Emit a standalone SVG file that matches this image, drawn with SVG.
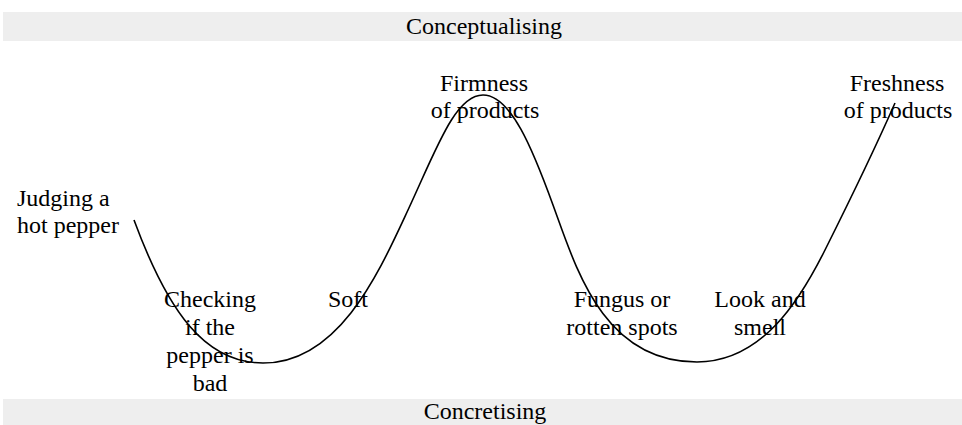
<svg xmlns="http://www.w3.org/2000/svg" width="962" height="425" viewBox="0 0 962 425">
<style>
.band{fill:#eeeeee;}
.t{font-family:"Liberation Serif","Times New Roman",serif;font-size:24px;fill:#000;}
.c{text-anchor:middle;}
.curve{fill:none;stroke:#000;stroke-width:1.6;}
</style>
<rect width="962" height="425" fill="#ffffff"/>
<g id="band-top"><rect class="band" x="3" y="12" width="959" height="29"/><text class="t c" x="484" y="34">Conceptualising</text></g>
<g id="band-bottom"><rect class="band" x="3" y="399" width="959" height="26"/><text class="t c" x="485" y="419">Concretising</text></g>
<g id="connectors"><path class="curve" d="M134,220 C168,312 205,363 263,363 C340,363 380,270 408,210 C436,150 455,95 483,95 C511,95 533,150 553,205 C576,268 603,362 697,362 C762,362 800,300 825,250 C840,220 870,160 895,103"/></g>
<g id="n-judging"><text class="t" x="17" y="206">Judging a</text><text class="t" x="17" y="233">hot pepper</text></g>
<g id="n-checking"><text class="t c" x="210" y="307">Checking</text><text class="t c" x="210" y="335">if the</text><text class="t c" x="210" y="363">pepper is</text><text class="t c" x="210" y="391">bad</text></g>
<g id="n-soft"><text class="t c" x="348" y="307">Soft</text></g>
<g id="n-firmness"><text class="t c" x="484" y="91">Firmness</text><text class="t c" x="485" y="118">of products</text></g>
<g id="n-fungus"><text class="t c" x="622" y="307">Fungus or</text><text class="t c" x="622" y="335">rotten spots</text></g>
<g id="n-look"><text class="t c" x="760" y="307">Look and</text><text class="t c" x="760" y="335">smell</text></g>
<g id="n-freshness"><text class="t c" x="897" y="91">Freshness</text><text class="t c" x="898" y="118">of products</text></g>
</svg>
